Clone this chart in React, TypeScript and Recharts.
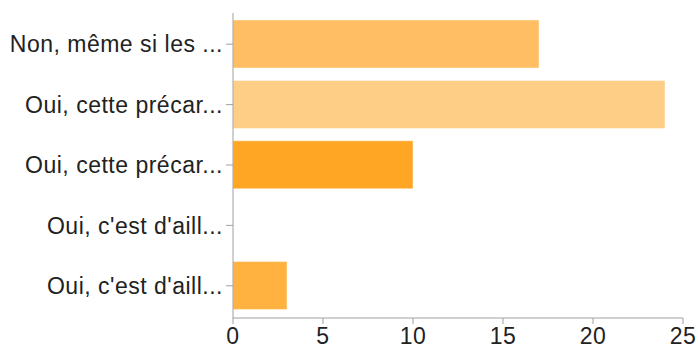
import { Bar, BarChart, Cell, XAxis, YAxis } from "recharts";

const labels = [
  "Non, même si les ...",
  "Oui, cette précar...",
  "Oui, cette précar...",
  "Oui, c'est d'aill...",
  "Oui, c'est d'aill...",
];
const counts = [17, 24, 10, 0, 3];
const colors = ["#FFBE63", "#FECD86", "#FFA724", "#FFB240", "#FFB240"];
const xTicks = [0, 5, 10, 15, 20, 25];

const data = labels.map((label, i) => ({ label, count: counts[i] }));

const tickFont = {
  fontFamily: "'Liberation Sans', Arial, sans-serif",
  fontSize: 23,
  letterSpacing: 0.5,
  fill: "#222",
};

export default function App() {
  return (
    <div style={{ position: "absolute", left: 0, top: 0, background: "#fff" }}>
      <BarChart
        width={698}
        height={350}
        data={data}
        layout="vertical"
        margin={{ top: 13, right: 15, bottom: 0, left: 0 }}
      >
        <XAxis
          type="number"
          domain={[0, 25]}
          ticks={xTicks}
          height={32}
          tickSize={6}
          tickMargin={4}
          stroke="#a0a0a0"
          tick={tickFont}
          interval={0}
        />
        <YAxis
          type="category"
          dataKey="label"
          width={233}
          tickSize={7}
          tickMargin={3}
          stroke="#a0a0a0"
          tick={tickFont}
          interval={0}
          padding={{ top: 1, bottom: 2 }}
        />
        <Bar dataKey="count" barSize={48} isAnimationActive={false} stroke="rgba(255,255,255,0.45)" strokeWidth={1}>
          {data.map((d, i) => (
            <Cell key={i} fill={colors[i]} />
          ))}
        </Bar>
      </BarChart>
    </div>
  );
}
